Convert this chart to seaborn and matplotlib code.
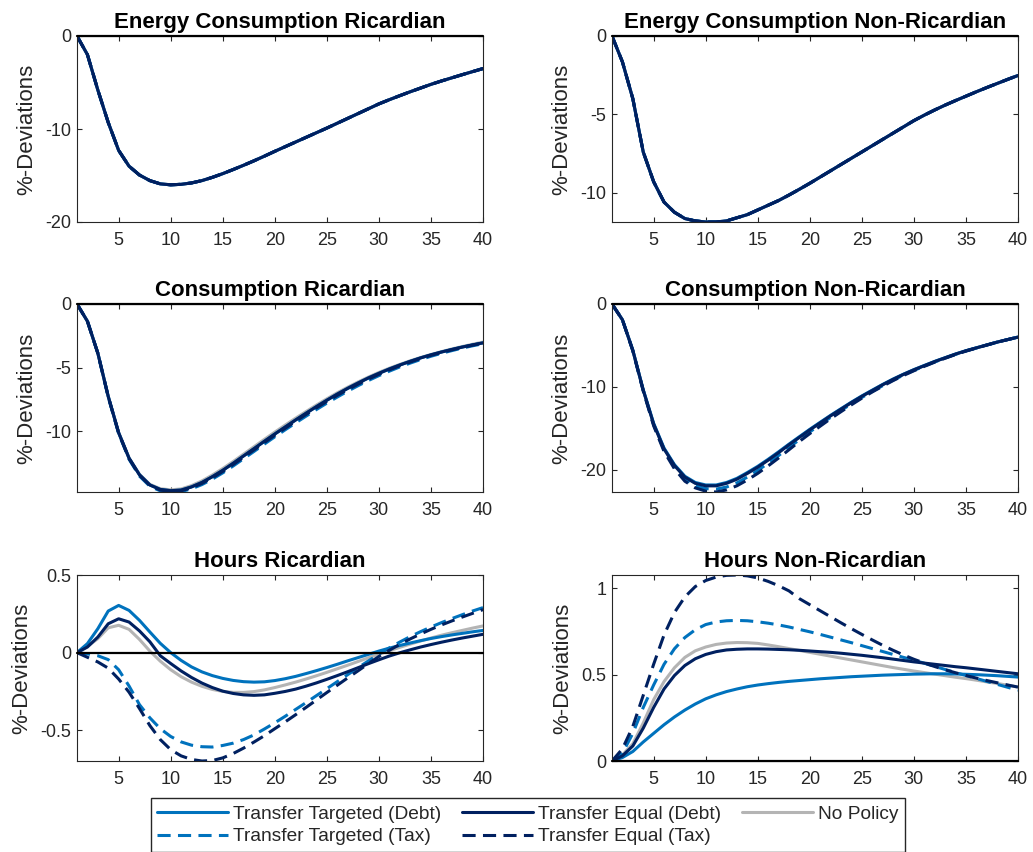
import matplotlib
matplotlib.use("Agg")
import matplotlib.pyplot as plt
from matplotlib.lines import Line2D
import pandas as pd
import seaborn as sns

# ---------------------------------------------------------------------------
# Impulse responses (%-deviations from steady state), quarters 1..40
# ---------------------------------------------------------------------------
periods = list(range(1, 41))

# Energy consumption: the five scenarios coincide
energy_ric = [0, -2.0, -5.8, -9.3, -12.3, -14.0, -14.95, -15.55, -15.9, -16.0,
              -15.95, -15.8, -15.55, -15.2, -14.8, -14.36, -13.9, -13.42, -12.92, -12.4,
              -11.9, -11.4, -10.9, -10.4, -9.9, -9.38, -8.86, -8.34, -7.82, -7.3,
              -6.85, -6.42, -6.0, -5.6, -5.2, -4.84, -4.5, -4.16, -3.83, -3.5]
energy_nonric = [0, -1.65, -4.0, -7.4, -9.3, -10.6, -11.25, -11.65, -11.8, -11.87,
                 -11.87, -11.8, -11.6, -11.4, -11.1, -10.8, -10.5, -10.15, -9.78, -9.4,
                 -9.0, -8.6, -8.2, -7.8, -7.4, -7.0, -6.6, -6.2, -5.8, -5.4,
                 -5.05, -4.72, -4.41, -4.12, -3.84, -3.56, -3.29, -3.03, -2.77, -2.52]

# Consumption, Ricardian households
cons_ric_debt = [0, -1.35, -3.85, -7.25, -10.1, -12.1, -13.4, -14.2, -14.55, -14.65,
                 -14.6, -14.35, -14.0, -13.55, -13.05, -12.5, -11.92, -11.35, -10.77, -10.2,
                 -9.65, -9.1, -8.57, -8.05, -7.55, -7.07, -6.62, -6.2, -5.8, -5.44,
                 -5.1, -4.79, -4.5, -4.23, -3.99, -3.77, -3.57, -3.38, -3.21, -3.05]
cons_ric_nopolicy = [0, -1.35, -3.85, -7.25, -10.08, -12.07, -13.36, -14.15, -14.49, -14.58,
                     -14.51, -14.25, -13.88, -13.42, -12.91, -12.36, -11.78, -11.2, -10.62, -10.05,
                     -9.5, -8.96, -8.44, -7.93, -7.44, -6.97, -6.53, -6.12, -5.73, -5.37,
                     -5.04, -4.74, -4.46, -4.2, -3.96, -3.74, -3.53, -3.34, -3.16, -2.99]
cons_ric_targeted_tax = [0, -1.35, -3.87, -7.3, -10.16, -12.18, -13.5, -14.3, -14.66, -14.75,
                         -14.72, -14.5, -14.17, -13.74, -13.25, -12.71, -12.14, -11.57, -10.99, -10.42,
                         -9.87, -9.33, -8.8, -8.28, -7.78, -7.3, -6.84, -6.41, -6.0, -5.62,
                         -5.27, -4.94, -4.64, -4.36, -4.1, -3.87, -3.66, -3.46, -3.28, -3.12]
cons_ric_equal_tax = [0, -1.35, -3.86, -7.27, -10.12, -12.13, -13.44, -14.24, -14.6, -14.7,
                      -14.66, -14.42, -14.08, -13.64, -13.14, -12.6, -12.02, -11.45, -10.87, -10.3,
                      -9.75, -9.2, -8.67, -8.15, -7.65, -7.17, -6.72, -6.29, -5.89, -5.52,
                      -5.17, -4.85, -4.56, -4.28, -4.03, -3.81, -3.6, -3.41, -3.23, -3.07]

# Consumption, non-Ricardian households
cons_nonric_equal_debt = [0, -1.9, -5.6, -10.4, -14.5, -17.5, -19.5, -20.9, -21.65, -21.95,
                          -21.95, -21.65, -21.15, -20.45, -19.7, -18.85, -17.95, -17.0, -16.1, -15.2,
                          -14.35, -13.5, -12.7, -11.9, -11.15, -10.45, -9.75, -9.1, -8.5, -7.95,
                          -7.45, -6.95, -6.5, -6.05, -5.65, -5.3, -4.95, -4.6, -4.3, -4.0]
cons_nonric_targeted_debt = [0, -1.9, -5.58, -10.35, -14.4, -17.4, -19.4, -20.8, -21.55, -21.85,
                             -21.85, -21.55, -21.05, -20.35, -19.6, -18.75, -17.85, -16.92, -16.02, -15.13,
                             -14.28, -13.44, -12.64, -11.85, -11.1, -10.4, -9.71, -9.06, -8.47, -7.92,
                             -7.42, -6.93, -6.48, -6.04, -5.64, -5.29, -4.94, -4.6, -4.29, -3.99]
cons_nonric_targeted_tax = [0, -1.9, -5.62, -10.45, -14.6, -17.65, -19.7, -21.15, -21.95, -22.3,
                            -22.35, -22.1, -21.6, -20.9, -20.1, -19.22, -18.3, -17.33, -16.38, -15.45,
                            -14.55, -13.68, -12.85, -12.05, -11.28, -10.56, -9.86, -9.2, -8.58, -8.02,
                            -7.5, -7.0, -6.53, -6.08, -5.67, -5.31, -4.96, -4.61, -4.3, -4.0]
cons_nonric_equal_tax = [0, -1.9, -5.65, -10.5, -14.7, -17.8, -19.9, -21.4, -22.2, -22.6,
                         -22.7, -22.45, -21.95, -21.25, -20.45, -19.55, -18.6, -17.6, -16.6, -15.65,
                         -14.75, -13.85, -13.0, -12.17, -11.37, -10.62, -9.92, -9.25, -8.63, -8.06,
                         -7.53, -7.02, -6.55, -6.1, -5.69, -5.32, -4.96, -4.61, -4.3, -4.0]

# Hours worked, Ricardian households
hours_ric_targeted_debt = [0, 0.058, 0.154, 0.268, 0.304, 0.272, 0.208, 0.133, 0.06, 0.0,
                           -0.05, -0.092, -0.124, -0.148, -0.166, -0.179, -0.187, -0.19, -0.188, -0.18,
                           -0.168, -0.153, -0.135, -0.116, -0.096, -0.075, -0.053, -0.032, -0.011, 0.01,
                           0.029, 0.046, 0.062, 0.077, 0.091, 0.103, 0.114, 0.124, 0.134, 0.143]
hours_ric_equal_debt = [0, 0.036, 0.1, 0.186, 0.218, 0.197, 0.14, 0.07, -0.02, -0.07,
                        -0.118, -0.16, -0.196, -0.225, -0.248, -0.263, -0.272, -0.275, -0.272, -0.262,
                        -0.25, -0.235, -0.216, -0.195, -0.172, -0.148, -0.123, -0.097, -0.071, -0.046,
                        -0.022, -0.001, 0.018, 0.036, 0.052, 0.067, 0.081, 0.094, 0.106, 0.118]
hours_ric_nopolicy = [0, 0.04, 0.09, 0.16, 0.176, 0.15, 0.085, 0.01, -0.055, -0.11,
                      -0.155, -0.19, -0.217, -0.237, -0.25, -0.256, -0.256, -0.251, -0.24, -0.225,
                      -0.208, -0.19, -0.17, -0.149, -0.127, -0.104, -0.081, -0.057, -0.033, -0.01,
                      0.012, 0.034, 0.055, 0.075, 0.094, 0.112, 0.128, 0.143, 0.158, 0.172]
hours_ric_targeted_tax = [0, -0.008, -0.02, -0.045, -0.11, -0.215, -0.335, -0.42, -0.49, -0.54,
                          -0.575, -0.596, -0.606, -0.608, -0.598, -0.583, -0.56, -0.53, -0.492, -0.452,
                          -0.41, -0.366, -0.322, -0.277, -0.232, -0.187, -0.142, -0.097, -0.053, -0.01,
                          0.03, 0.068, 0.103, 0.135, 0.165, 0.193, 0.219, 0.244, 0.268, 0.29]
hours_ric_equal_tax = [0, -0.03, -0.06, -0.1, -0.17, -0.255, -0.36, -0.47, -0.56, -0.625,
                       -0.665, -0.688, -0.698, -0.695, -0.678, -0.65, -0.615, -0.576, -0.535, -0.49,
                       -0.446, -0.4, -0.353, -0.305, -0.257, -0.21, -0.163, -0.117, -0.07, -0.025,
                       0.015, 0.053, 0.088, 0.12, 0.15, 0.178, 0.204, 0.229, 0.253, 0.277]

# Hours worked, non-Ricardian households
hours_nonric_targeted_debt = [0, 0.02, 0.055, 0.11, 0.16, 0.21, 0.255, 0.295, 0.33, 0.36,
                              0.383, 0.402, 0.417, 0.43, 0.44, 0.448, 0.455, 0.461, 0.466, 0.471,
                              0.476, 0.48, 0.484, 0.488, 0.491, 0.494, 0.497, 0.499, 0.501, 0.503,
                              0.504, 0.505, 0.505, 0.504, 0.502, 0.5, 0.497, 0.494, 0.49, 0.486]
hours_nonric_equal_debt = [0, 0.03, 0.087, 0.19, 0.31, 0.417, 0.495, 0.553, 0.592, 0.617,
                           0.633, 0.643, 0.647, 0.649, 0.649, 0.648, 0.646, 0.644, 0.641, 0.637,
                           0.633, 0.629, 0.624, 0.618, 0.612, 0.605, 0.598, 0.59, 0.582, 0.574,
                           0.567, 0.56, 0.553, 0.546, 0.54, 0.533, 0.526, 0.519, 0.512, 0.505]
hours_nonric_nopolicy = [0, 0.035, 0.1, 0.22, 0.355, 0.46, 0.54, 0.6, 0.638, 0.66,
                         0.675, 0.683, 0.686, 0.685, 0.681, 0.672, 0.662, 0.651, 0.64, 0.629,
                         0.618, 0.607, 0.596, 0.585, 0.574, 0.563, 0.552, 0.541, 0.531, 0.521,
                         0.512, 0.503, 0.494, 0.485, 0.477, 0.468, 0.458, 0.449, 0.439, 0.428]
hours_nonric_targeted_tax = [0, 0.045, 0.16, 0.31, 0.44, 0.56, 0.65, 0.715, 0.76, 0.79,
                             0.805, 0.812, 0.814, 0.812, 0.806, 0.798, 0.788, 0.776, 0.762, 0.748,
                             0.733, 0.717, 0.701, 0.685, 0.668, 0.651, 0.634, 0.617, 0.6, 0.584,
                             0.566, 0.548, 0.53, 0.512, 0.495, 0.478, 0.461, 0.444, 0.427, 0.41]
hours_nonric_equal_tax = [0, 0.07, 0.2, 0.38, 0.56, 0.73, 0.86, 0.95, 1.01, 1.045,
                          1.065, 1.075, 1.077, 1.072, 1.06, 1.04, 1.015, 0.985, 0.94, 0.905,
                          0.87, 0.835, 0.8, 0.766, 0.733, 0.701, 0.67, 0.641, 0.614, 0.589,
                          0.567, 0.547, 0.528, 0.511, 0.495, 0.48, 0.466, 0.453, 0.44, 0.428]

# ---------------------------------------------------------------------------
# Scenario styling
# ---------------------------------------------------------------------------
TT_DEBT = "Transfer Targeted (Debt)"
TT_TAX = "Transfer Targeted (Tax)"
TE_DEBT = "Transfer Equal (Debt)"
TE_TAX = "Transfer Equal (Tax)"
NO_POL = "No Policy"

LIGHT = "#0072BD"
DARK = "#002060"
GREY = "#B4B4B4"
palette = {TT_DEBT: LIGHT, TT_TAX: LIGHT, TE_DEBT: DARK, TE_TAX: DARK, NO_POL: GREY}
dash_pattern = (4.3, 2.4)
dashes = {TT_DEBT: "", TT_TAX: dash_pattern, TE_DEBT: "", TE_TAX: dash_pattern, NO_POL: ""}
draw_order = [NO_POL, TT_DEBT, TT_TAX, TE_DEBT, TE_TAX]
legend_order = [TT_DEBT, TT_TAX, TE_DEBT, TE_TAX, NO_POL]
LINE_W = 2.2

panels = [
    dict(title="Energy Consumption Ricardian",
         series={s: energy_ric for s in draw_order},
         ylim=(-20, 0), yticks=[-20, -10, 0], labels=["-20", "-10", "0"]),
    dict(title="Energy Consumption Non-Ricardian",
         series={s: energy_nonric for s in draw_order},
         ylim=("data", 0), yticks=[-10, -5, 0], labels=["-10", "-5", "0"]),
    dict(title="Consumption Ricardian",
         series={NO_POL: cons_ric_nopolicy, TT_DEBT: cons_ric_debt, TT_TAX: cons_ric_targeted_tax,
                 TE_DEBT: cons_ric_debt, TE_TAX: cons_ric_equal_tax},
         ylim=("data", 0), yticks=[-10, -5, 0], labels=["-10", "-5", "0"]),
    dict(title="Consumption Non-Ricardian",
         series={NO_POL: cons_nonric_equal_debt, TT_DEBT: cons_nonric_targeted_debt,
                 TT_TAX: cons_nonric_targeted_tax, TE_DEBT: cons_nonric_equal_debt,
                 TE_TAX: cons_nonric_equal_tax},
         ylim=("data", 0), yticks=[-20, -10, 0], labels=["-20", "-10", "0"]),
    dict(title="Hours Ricardian",
         series={NO_POL: hours_ric_nopolicy, TT_DEBT: hours_ric_targeted_debt,
                 TT_TAX: hours_ric_targeted_tax, TE_DEBT: hours_ric_equal_debt,
                 TE_TAX: hours_ric_equal_tax},
         ylim=("data", 0.5), yticks=[-0.5, 0, 0.5], labels=["-0.5", "0", "0.5"]),
    dict(title="Hours Non-Ricardian",
         series={NO_POL: hours_nonric_nopolicy, TT_DEBT: hours_nonric_targeted_debt,
                 TT_TAX: hours_nonric_targeted_tax, TE_DEBT: hours_nonric_equal_debt,
                 TE_TAX: hours_nonric_equal_tax},
         ylim=(0, "data"), yticks=[0, 0.5, 1], labels=["0", "0.5", "1"]),
]

# ---------------------------------------------------------------------------
# Figure
# ---------------------------------------------------------------------------
sns.set_theme(style="ticks")
plt.rcParams["font.family"] = ["Liberation Sans", "DejaVu Sans"]
plt.rcParams["axes.unicode_minus"] = False

INK = "#262626"
W, H = 1033, 852
fig = plt.figure(figsize=(W / 100, H / 100), dpi=100)

col_left = [77, 612]
col_width = 406
row_span = [(36, 222), (304, 492), (575, 761)]

for i, p in enumerate(panels):
    r, c = divmod(i, 2)
    top, bottom = row_span[r]
    ax = fig.add_axes([col_left[c] / W, 1 - bottom / H, col_width / W, (bottom - top) / H])

    frames = []
    for name, vals in p["series"].items():
        frames.append(pd.DataFrame({"period": periods, "value": vals, "scenario": name}))
    df = pd.concat(frames, ignore_index=True)

    sns.lineplot(data=df, x="period", y="value", hue="scenario", style="scenario",
                 hue_order=draw_order, style_order=draw_order, palette=palette,
                 dashes=dashes, linewidth=LINE_W, errorbar=None, legend=False, ax=ax)

    ax.axhline(0, color="black", lw=1.6, zorder=3, clip_on=False)

    all_vals = [v for vals in p["series"].values() for v in vals]
    lo, hi = p["ylim"]
    lo = min(all_vals) if lo == "data" else lo
    hi = max(all_vals) if hi == "data" else hi
    ax.set_ylim(lo, hi)
    ax.set_xlim(1, 40)
    ax.set_xticks(range(5, 41, 5))
    ax.set_xticklabels([str(t) for t in range(5, 41, 5)])
    ax.set_yticks(p["yticks"])
    ax.set_yticklabels(p["labels"])

    ax.set_title(p["title"], fontsize=16, fontweight="bold", color="black", pad=6)
    ax.set_xlabel("")
    ax.set_ylabel("%-Deviations", fontsize=16, color=INK, labelpad=6)

    ax.tick_params(direction="in", length=3.6, width=0.8, colors=INK, labelsize=13,
                   top=True, right=True)
    ax.tick_params(axis="x", pad=7.5)
    ax.tick_params(axis="y", pad=4)
    for s in ax.spines.values():
        s.set_visible(True)
        s.set_color(INK)
        s.set_linewidth(0.8)

handles = []
for name in legend_order:
    h = Line2D([], [], color=palette[name], lw=LINE_W)
    if dashes[name]:
        h.set_dashes(dashes[name])
    handles.append(h)

fig.legend(handles, legend_order, ncol=3, loc="lower center",
           bbox_to_anchor=(528 / W, 0.0), fontsize=13.8,
           frameon=True, fancybox=False, edgecolor=INK, framealpha=1,
           handlelength=3.7, handletextpad=0.25, columnspacing=1.1,
           borderpad=0.35, labelspacing=0.28, borderaxespad=0.0)

fig.savefig("out.png", dpi=100)
